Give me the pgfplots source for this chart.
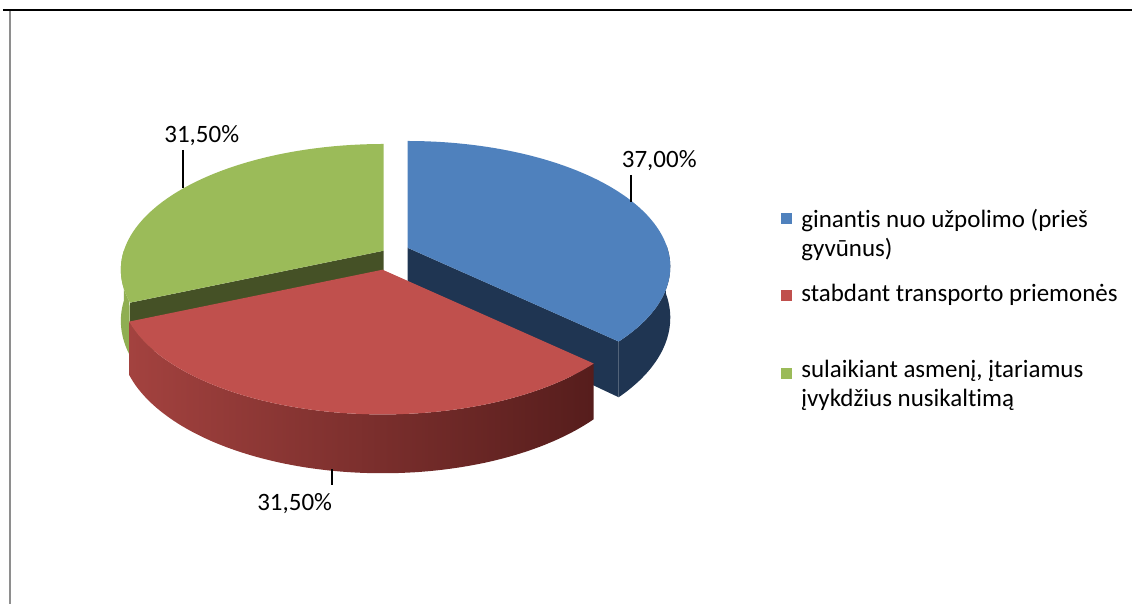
\documentclass[border=0pt]{standalone}
\usepackage{pgfplots}
\usepackage{pgfplotstable}
\pgfplotsset{compat=1.18}
\usepackage{fontspec}
\setmainfont{Carlito}[Ligatures={NoCommon}]
\definecolor{cblue}{HTML}{4F81BD}
\definecolor{cbluedk}{HTML}{1F3552}
\definecolor{cred}{HTML}{C0504D}
\definecolor{credL}{HTML}{A3423F}
\definecolor{credR}{HTML}{561D1C}
\definecolor{cgreen}{HTML}{9BBB59}
\definecolor{cgreenside}{HTML}{8FAE52}
\definecolor{cgreendk}{HTML}{455126}
\definecolor{frame}{HTML}{8E8E8E}
\pgfplotstableread{
label value
blue 37.00
red 31.50
green 31.50
}\pietable
\pgfplotstablegetelem{0}{value}\of\pietable \let\vB\pgfplotsretval
\pgfplotstablegetelem{1}{value}\of\pietable \let\vR\pgfplotsretval
\pgfplotstablegetelem{2}{value}\of\pietable \let\vG\pgfplotsretval
\pgfmathsetmacro\aB{90-3.6*\vB}
\pgfmathsetmacro\aR{\aB-3.6*\vR}
\pgfmathsetmacro\aG{\aR-3.6*\vG}
\pgfmathsetmacro\dGs{\aR+180}
\pgfmathsetmacro\dRs{\aB-\aR}
\pgfmathsetmacro\dBs{2-\aB}
\newcommand\lab{\fontsize{25}{30}\selectfont}
\begin{document}
\begin{tikzpicture}
\begin{axis}[width=1133pt, height=605pt, scale only axis,
  xmin=0, xmax=1133, ymin=0, ymax=605, y dir=reverse,
  hide axis, clip=false,
  declare function={
    pf(\t)=1/(1+0.151*sin(\t));
    ex(\t)=260*cos(\t)*pf(\t);
    ey(\t)=-123*sin(\t)*pf(\t);
    ss(\t)=(\t<1.00005)*\t+(1-(\t<1.00005))*(2-\t);
    sh(\t)=1-(\t<1.00005);
  }]
% full canvas for the bounding box
\path (axis cs:0,0) rectangle (axis cs:1133,605);
% frame
\draw[line width=2.5pt, black] (axis cs:3,10) -- (axis cs:1133,10);
\draw[line width=2.2pt, frame] (axis cs:10,11) -- (axis cs:10,605);
% ---- green slice (back left)
\addplot[draw=none, fill=cgreenside, samples at={0,0.02,...,1,1.0001,1.02,1.04,...,1.98,2}]
  ({384+ex(-180+ss(x)*\dGs)}, {251+ey(-180+ss(x)*\dGs)+sh(x)*50*pf(-180+ss(x)*\dGs)}) -- cycle;
\addplot[draw=none, fill=cgreendk] coordinates {(384,251) (130.2,303.0) (130.2,356.2) (384,301)} -- cycle;
\addplot[draw=none, fill=cgreen, domain=\aG:\aR, samples=90]
  ({384+ex(x)}, {251+ey(x)}) -- (axis cs:384,251) -- cycle;
% ---- blue slice (exploded right)
\addplot[draw=none, fill=cbluedk, samples at={0,0.02,...,1,1.0001,1.02,1.04,...,1.98,2}]
  ({408+ex(\aB+ss(x)*\dBs)}, {248+ey(\aB+ss(x)*\dBs)+sh(x)*50*pf(\aB+ss(x)*\dBs)}) -- cycle;
\addplot[draw=none, fill=cbluedk] coordinates {(408,248) (619.4,341.9) (619.4,397.7) (408,298)} -- cycle;
\addplot[draw=none, fill=cblue, domain=\aB:90, samples=100]
  ({408+ex(x)}, {248+ey(x)}) -- (axis cs:408,248) -- cycle;
% ---- red slice (front)
\addplot[draw=none, left color=credL, right color=credR, samples at={0,0.01,...,1,1.0001,1.01,1.02,...,1.99,2}]
  ({383+ex(\aR+ss(x)*\dRs)}, {270+ey(\aR+ss(x)*\dRs)+sh(x)*50*pf(\aR+ss(x)*\dRs)}) -- cycle;
\addplot[draw=none, fill=cred, domain=\aR:\aB, samples=90]
  ({383+ex(x)}, {270+ey(x)}) -- (axis cs:383,270) -- cycle;
% ---- data labels
\draw[line width=1.8pt] (axis cs:183,150) -- (axis cs:183,188);
\draw[line width=1.8pt] (axis cs:632,175) -- (axis cs:632,202);
\draw[line width=1.8pt] (axis cs:332,470) -- (axis cs:332,486);
\node[anchor=base, inner sep=0pt, font=\lab] at (axis cs:202,143) {31,50\%};
\node[anchor=base, inner sep=0pt, font=\lab] at (axis cs:660,168) {37,00\%};
\node[anchor=base, inner sep=0pt, font=\lab] at (axis cs:295,511) {31,50\%};
% ---- legend
\fill[cblue] (axis cs:782,213) rectangle (axis cs:793,224);
\fill[cred] (axis cs:782,290) rectangle (axis cs:793,301);
\fill[cgreen] (axis cs:782,368) rectangle (axis cs:793,379);
\node[anchor=base west, inner sep=0pt, font=\lab] at (axis cs:802,228) {ginantis nuo užpolimo (prieš};
\node[anchor=base west, inner sep=0pt, font=\lab] at (axis cs:802,257) {gyvūnus)};
\node[anchor=base west, inner sep=0pt, font=\lab] at (axis cs:802,302) {stabdant transporto priemonės};
\node[anchor=base west, inner sep=0pt, font=\lab] at (axis cs:802,378) {sulaikiant asmenį, įtariamus};
\node[anchor=base west, inner sep=0pt, font=\lab] at (axis cs:802,407) {įvykdžius nusikaltimą};
\end{axis}
\end{tikzpicture}
\end{document}
